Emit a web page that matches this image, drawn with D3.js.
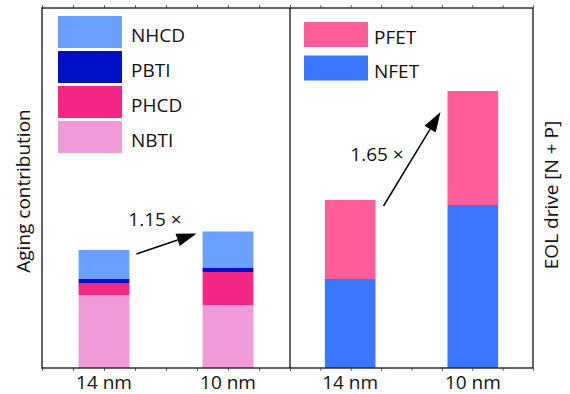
<!DOCTYPE html>
<html>
<head>
<meta charset="utf-8">
<script src="https://cdn.jsdelivr.net/npm/d3@7"></script>
<style>
  body { margin: 0; background: #fff; }
  text { font-family: "Open Sans", sans-serif; fill: #111; }
</style>
</head>
<body>
<svg id="chart" width="570" height="394"></svg>
<script>
// nodes
var nodes = ["14 nm", "10 nm"];

// left panel: aging contribution, stacked bottom -> top
var agingKeys = ["NBTI", "PHCD", "PBTI", "NHCD"];
var nbti = [0.73, 0.63];
var phcd = [0.12, 0.33];
var pbti = [0.04, 0.045];
var nhcd = [0.29, 0.36];
var agingColors = ["#f09ad8", "#f42884", "#0010c4", "#6aa0ff"];
var agingLegend = ["NHCD", "PBTI", "PHCD", "NBTI"];

// right panel: EOL drive, stacked bottom -> top
var driveKeys = ["NFET", "PFET"];
var nfet = [0.89, 1.63];
var pfet = [0.79, 1.14];
var driveColors = ["#3b78ff", "#ff5c9a"];
var driveLegend = ["PFET", "NFET"];

var ratioLabels = ["1.15 \u00d7", "1.65 \u00d7"];

var svg = d3.select("#chart");
var yTop = 8, yBot = 368, left = 42, mid = 290, right = 533;

var y = d3.scaleLinear().domain([0, 3.6]).range([yBot, yTop]);

var xL = d3.scaleBand().domain(nodes).range([left, mid]).paddingInner(0.59).paddingOuter(0.295);
var xR = d3.scaleBand().domain(nodes).range([mid, right]).paddingInner(0.587).paddingOuter(0.284);

function rows(keys, arrays) {
  return nodes.map(function(n, i) {
    var r = {node: n};
    keys.forEach(function(k, j) { r[k] = arrays[j][i]; });
    return r;
  });
}

function drawStack(x, keys, arrays, colors) {
  var series = d3.stack().keys(keys)(rows(keys, arrays));
  svg.append("g").selectAll("g")
    .data(series)
    .enter().append("g")
    .style("fill", function(d, i) { return colors[i]; })
    .selectAll("rect")
    .data(function(d) { return d; })
    .enter().append("rect")
    .attr("x", function(d) { return x(d.data.node); })
    .attr("width", x.bandwidth())
    .attr("y", function(d) { return y(d[1]); })
    .attr("height", function(d) { return y(d[0]) - y(d[1]); });
  return series;
}

var sL = drawStack(xL, agingKeys, [nbti, phcd, pbti, nhcd], agingColors);
var sR = drawStack(xR, driveKeys, [nfet, pfet], driveColors);

// minor ticks on top and bottom
function ticks(x0, x1) {
  var s = d3.scaleLinear().domain([0, 8]).range([x0, x1]);
  svg.append("g").attr("transform", "translate(0," + yBot + ")")
    .call(d3.axisBottom(s).ticks(8).tickSize(3).tickFormat(""))
    .call(function(g) { g.select(".domain").remove(); g.selectAll("line").attr("stroke", "#666"); });
  svg.append("g").attr("transform", "translate(0," + yTop + ")")
    .call(d3.axisTop(s).ticks(8).tickSize(3).tickFormat(""))
    .call(function(g) { g.select(".domain").remove(); g.selectAll("line").attr("stroke", "#666"); });
}
ticks(left, mid);
ticks(mid, right);

// frame
svg.append("rect").attr("x", left).attr("y", yTop)
  .attr("width", right - left).attr("height", yBot - yTop)
  .attr("fill", "none").attr("stroke", "#222").attr("stroke-width", 1.4);
svg.append("line").attr("x1", mid).attr("x2", mid).attr("y1", yTop).attr("y2", yBot)
  .attr("stroke", "#222").attr("stroke-width", 1.4);

// category labels
[xL, xR].forEach(function(x) {
  svg.append("g").selectAll("text")
    .data(nodes)
    .enter().append("text")
    .attr("x", function(d) { return x(d) + x.bandwidth() / 2; })
    .attr("y", 389)
    .attr("text-anchor", "middle")
    .style("font-size", "19px")
    .text(function(d) { return d; });
});

// legends
var lgL = svg.append("g").selectAll("g").data(agingLegend).enter().append("g")
  .attr("transform", function(d, i) { return "translate(58," + (16 + i * 35) + ")"; });
lgL.append("rect").attr("width", 64).attr("height", 32)
  .style("fill", function(d) { return agingColors[agingKeys.indexOf(d)]; });
lgL.append("text").attr("x", 73).attr("y", 26).style("font-size", "19px").text(function(d) { return d; });

var lgR = svg.append("g").selectAll("g").data(driveLegend).enter().append("g")
  .attr("transform", function(d, i) { return "translate(304," + (22 + i * 33.5) + ")"; });
lgR.append("rect").attr("width", 64).attr("height", 25)
  .style("fill", function(d) { return driveColors[driveKeys.indexOf(d)]; });
lgR.append("text").attr("x", 70).attr("y", 22).style("font-size", "19px").text(function(d) { return d; });

// axis titles
svg.append("text").attr("transform", "translate(30,191) rotate(-90)")
  .attr("text-anchor", "middle").style("font-size", "19px").text("Aging contribution");
svg.append("text").attr("transform", "translate(558,195) rotate(-90)")
  .attr("text-anchor", "middle").style("font-size", "19px").text("EOL drive [N + P]");

// arrows
function arrow(x1, y1, x2, y2) {
  var a = Math.atan2(y2 - y1, x2 - x1), len = 20, hw = 6.5;
  var bx = x2 - len * Math.cos(a), by = y2 - len * Math.sin(a);
  svg.append("line").attr("x1", x1).attr("y1", y1).attr("x2", bx).attr("y2", by)
    .attr("stroke", "#000").attr("stroke-width", 1.5);
  svg.append("path")
    .attr("d", d3.line()([[x2, y2],
      [bx + hw * Math.sin(a), by - hw * Math.cos(a)],
      [bx - hw * Math.sin(a), by + hw * Math.cos(a)]]) + "Z")
    .attr("fill", "#000");
}
var topL = sL[sL.length - 1], topR = sR[sR.length - 1];
arrow(xL("14 nm") + xL.bandwidth() + 7, y(topL[0][1]) + 4, xL("10 nm") - 6, y(topL[1][1]) + 2);
arrow(xR("14 nm") + xR.bandwidth() + 8, y(topR[0][1]) + 6, xR("10 nm") - 7, y(topR[1][1]) + 21);

svg.append("text").attr("x", 155).attr("y", 226).attr("text-anchor", "middle")
  .style("font-size", "19px").text(ratioLabels[0]);
svg.append("text").attr("x", 377).attr("y", 161).attr("text-anchor", "middle")
  .style("font-size", "19px").text(ratioLabels[1]);
</script>
</body>
</html>
